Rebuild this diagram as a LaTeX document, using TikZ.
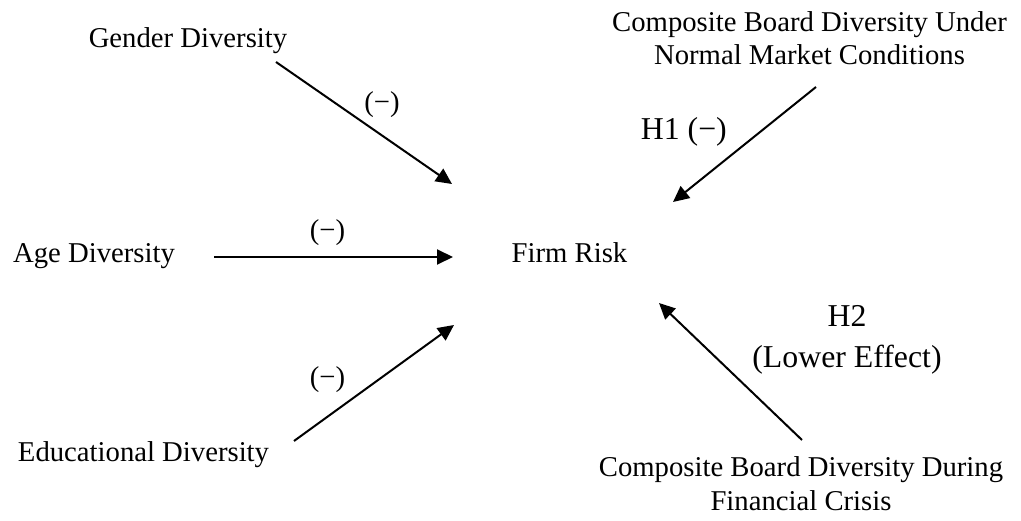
\documentclass[tikz,border=0pt]{standalone}
\usepackage{fontspec}
\setmainfont{Liberation Serif}
\usetikzlibrary{arrows.meta}
\tikzset{
  lbl/.style={inner sep=0pt, anchor=base, font=\fontsize{28.7}{33}\selectfont},
  hyp/.style={inner sep=0pt, anchor=base, font=\fontsize{31.8}{41}\selectfont},
  link/.style={line width=2pt, -{Triangle[length=16pt,width=15pt]}},
}
\newcommand{\twolines}[2]{\begin{tabular}[t]{@{}c@{}}#1\\#2\end{tabular}}
\begin{document}
\begin{tikzpicture}[x=1pt,y=-1pt]
\useasboundingbox (0,0) rectangle (1021,521);
% concept nodes
\node[lbl] (gender) at (188,48) {Gender Diversity};
\node[lbl] (age) at (94,263) {Age Diversity};
\node[lbl] (edu) at (143.5,461) {Educational Diversity};
\node[lbl] (risk) at (569.5,263) {Firm Risk};
\node[lbl] (normal) at (809.5,32) {\twolines{Composite Board Diversity Under}{Normal Market Conditions}};
\node[lbl] (crisis) at (801,477) {\twolines{Composite Board Diversity During}{Financial Crisis}};
% connector end points
\coordinate (gS) at (276,62);
\coordinate (gT) at (452,184);
\coordinate (aS) at (214,257);
\coordinate (aT) at (453,257);
\coordinate (eS) at (294,441);
\coordinate (eT) at (454,325);
\coordinate (nS) at (816,87);
\coordinate (nT) at (673,202);
\coordinate (cS) at (802,440);
\coordinate (cT) at (659,303);
% connectors
\draw[link] (gS) -- (gT);
\draw[link] (aS) -- (aT);
\draw[link] (eS) -- (eT);
\draw[link] (nS) -- (nT);
\draw[link] (cS) -- (cT);
% labels
\node[lbl] (gl) at (382,112) {(−)};
\node[lbl] (al) at (327.5,240) {(−)};
\node[lbl] (el) at (327.5,387) {(−)};
\node[hyp, anchor=base east] (h1) at (727,140) {H1 (−)};
\node[hyp] (h2) at (847,327) {\twolines{H2}{(Lower Effect)}};
\end{tikzpicture}
\end{document}
